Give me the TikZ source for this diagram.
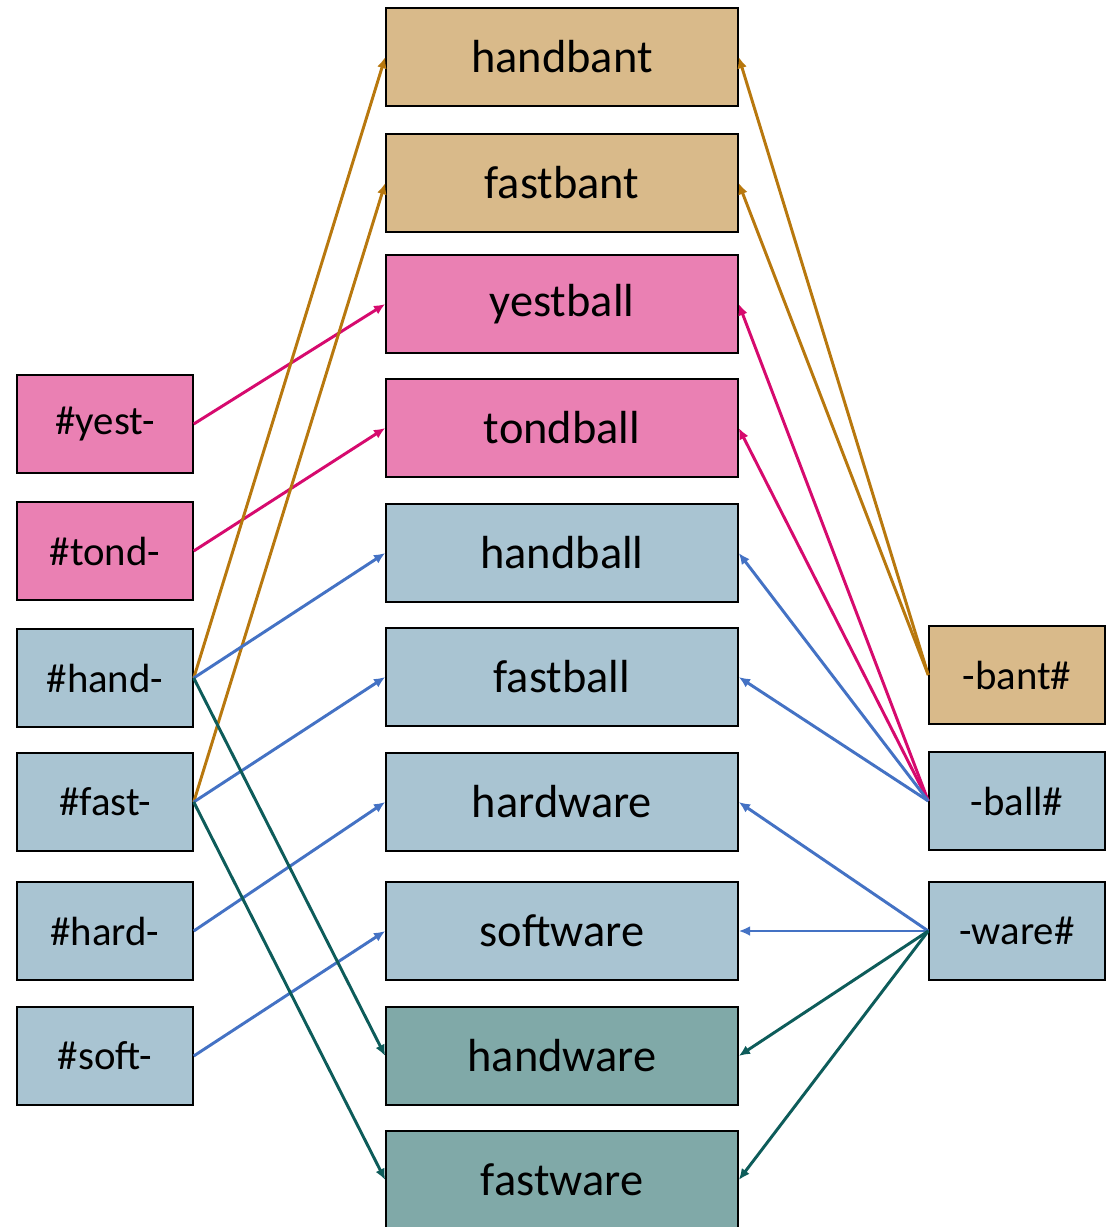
\documentclass[tikz,border=0pt]{standalone}
\usepackage{fontspec}
\setmainfont{Carlito}
\usetikzlibrary{arrows.meta}
\definecolor{tan}{HTML}{D9BA8A}
\definecolor{rose}{HTML}{EA80B3}
\definecolor{pale}{HTML}{A9C4D2}
\definecolor{sea}{HTML}{80A9A8}
\definecolor{brownln}{HTML}{B8780E}
\definecolor{pinkln}{HTML}{D60A6E}
\definecolor{blueln}{HTML}{4472C4}
\definecolor{tealln}{HTML}{0D5C5A}
\tikzset{
	morph/.style={draw=black, line width=1pt, minimum width=4.4cm, minimum height=2.45cm, inner sep=0pt, font=\fontsize{29}{32}\selectfont},
	word/.style={draw=black, line width=1pt, minimum width=8.8cm, minimum height=2.45cm, inner sep=0pt, font=\fontsize{33}{36}\selectfont},
	link/.style={line width=2.1pt, -{Latex[length=8pt,width=7pt]}}
}

\begin{document}
\begin{tikzpicture}[x=0.025cm, y=-0.025cm]
			%%%%% START %%%%%
			\useasboundingbox (0, 0) rectangle (1107, 1227);
			
			% left column
			\node[morph, fill=rose] (yestL) at (105, 424) {\#yest-};
			\node[morph, fill=rose] (tondL) at (105, 551) {\#tond-};
			\node[morph, fill=pale] (handL) at (105, 678) {\#hand-};
			\node[morph, fill=pale] (fastL) at (105, 802) {\#fast-};
			\node[morph, fill=pale] (hardL) at (105, 931) {\#hard-};
			\node[morph, fill=pale] (softL) at (105, 1056) {\#soft-};
			
			% middle column
			\node[word, fill=tan] (handbant) at (562, 57) {handbant};
			\node[word, fill=tan] (fastbant) at (562, 183) {fastbant};
			\node[word, fill=rose] (yestball) at (562, 304) {yestball};
			\node[word, fill=rose] (tondball) at (562, 428) {tondball};
			\node[word, fill=pale] (handball) at (562, 553) {handball};
			\node[word, fill=pale] (fastball) at (562, 677) {fastball};
			\node[word, fill=pale] (hardware) at (562, 802) {hardware};
			\node[word, fill=pale] (software) at (562, 931) {software};
			\node[word, fill=sea] (handware) at (562, 1056) {handware};
			\node[word, fill=sea] (fastware) at (562, 1180) {fastware};
			
			% right column
			\node[morph, fill=tan] (bantR) at (1017, 675) {-bant\#};
			\node[morph, fill=pale] (ballR) at (1017, 801) {-ball\#};
			\node[morph, fill=pale] (wareR) at (1017, 931) {-ware\#};
			
			% left links
			\draw[link, pinkln] (yestL.east) -- (yestball.west);
			\draw[link, pinkln] (tondL.east) -- (tondball.west);
			\draw[link, brownln] (handL.east) -- (handbant.west);
			\draw[link, brownln] (fastL.east) -- (fastbant.west);
			\draw[link, blueln] (handL.east) -- (handball.west);
			\draw[link, blueln] (fastL.east) -- (fastball.west);
			\draw[link, blueln] (hardL.east) -- (hardware.west);
			\draw[link, blueln] (softL.east) -- (software.west);
			\draw[link, tealln] (handL.east) -- (handware.west);
			\draw[link, tealln] (fastL.east) -- (fastware.west);
			
			% right links
			\draw[link, brownln] (bantR.west) -- (handbant.east);
			\draw[link, brownln] (bantR.west) -- (fastbant.east);
			\draw[link, pinkln] (ballR.west) -- (yestball.east);
			\draw[link, pinkln] (ballR.west) -- (tondball.east);
			\draw[link, blueln] (ballR.west) -- (handball.east);
			\draw[link, blueln] (ballR.west) -- (fastball.east);
			\draw[link, blueln] (wareR.west) -- (hardware.east);
			\draw[link, blueln] (wareR.west) -- (software.east);
			\draw[link, tealln] (wareR.west) -- (handware.east);
			\draw[link, tealln] (wareR.west) -- (fastware.east);
			%%%%% END %%%%%
\end{tikzpicture}
\end{document}
